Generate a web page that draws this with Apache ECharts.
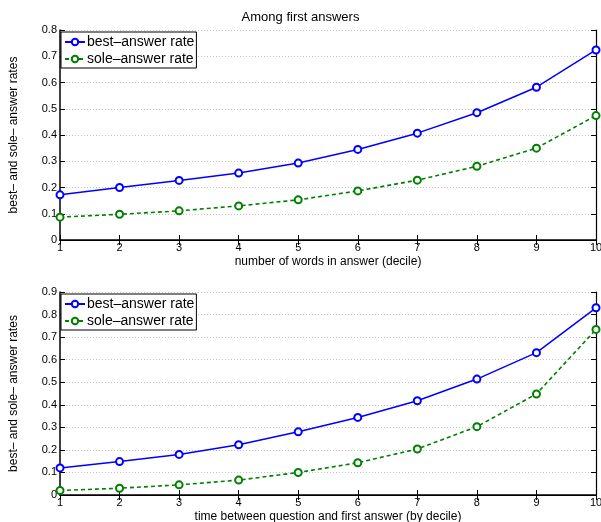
<!DOCTYPE html>
<html>
<head>
<meta charset="utf-8">
<script src="https://cdn.jsdelivr.net/npm/echarts@6/dist/echarts.min.js"></script>
<style>
html, body { margin: 0; padding: 0; background: #fff; }
#main { width: 601px; height: 522px; }
</style>
</head>
<body>
<div id="main"></div>
<script>
const deciles = [1, 2, 3, 4, 5, 6, 7, 8, 9, 10]
const wordsBest = [0.172, 0.200, 0.227, 0.255, 0.293, 0.345, 0.407, 0.485, 0.582, 0.724]
const wordsSole = [0.087, 0.098, 0.111, 0.130, 0.153, 0.187, 0.228, 0.281, 0.350, 0.474]
const timeBest = [0.120, 0.148, 0.180, 0.223, 0.280, 0.344, 0.418, 0.514, 0.631, 0.830]
const timeSole = [0.020, 0.030, 0.045, 0.066, 0.100, 0.143, 0.204, 0.303, 0.448, 0.734]

const font = 'Liberation Sans, Arial, sans-serif'
const blue = '#0000ff'
const green = '#008000'

let myChart = echarts.init(document.getElementById('main'))

const pairs = (ys) => deciles.map((x, i) => [x, ys[i]])

const xAxisFor = (gridIndex, name) => [
    {
        type: 'value', gridIndex: gridIndex, min: 1, max: 10, interval: 1,
        name: name, nameLocation: 'middle', nameGap: 16,
        nameTextStyle: {fontFamily: font, fontSize: 12, color: '#000'},
        axisLine: {lineStyle: {color: '#000', width: 1.5}},
        axisTick: {inside: true, length: 5, lineStyle: {color: '#000'}},
        axisLabel: {fontFamily: font, fontSize: 11, color: '#000', margin: 2},
        splitLine: {show: false}
    },
    {
        type: 'value', gridIndex: gridIndex, position: 'top', min: 1, max: 10, interval: 1,
        axisLine: {lineStyle: {color: '#000', width: 1.2}},
        axisTick: {inside: true, length: 5, lineStyle: {color: '#000'}},
        axisLabel: {show: false},
        splitLine: {show: false}
    }
]

const yAxisFor = (gridIndex, max) => [
    {
        type: 'value', gridIndex: gridIndex, min: 0, max: max, interval: 0.1,
        name: 'best\u2013 and sole\u2013 answer rates', nameLocation: 'middle', nameGap: 40,
        nameTextStyle: {fontFamily: font, fontSize: 12, color: '#000'},
        axisLine: {show: true, lineStyle: {color: '#000', width: 1.5}},
        axisTick: {inside: true, length: 5, lineStyle: {color: '#000'}},
        axisLabel: {fontFamily: font, fontSize: 11, color: '#000', margin: 3,
            formatter: v => Math.round(v * 10) / 10 + ''},
        splitLine: {show: true, lineStyle: {color: '#c4c4c4', type: [1, 2], width: 1}}
    },
    {
        type: 'value', gridIndex: gridIndex, position: 'right', min: 0, max: max, interval: 0.1,
        axisLine: {show: true, lineStyle: {color: '#000', width: 1.2}},
        axisTick: {inside: true, length: 5, lineStyle: {color: '#000'}},
        axisLabel: {show: false},
        splitLine: {show: false}
    }
]

const lineSeries = (name, data, color, dashed, xi, yi) => ({
    name: name, type: 'line', data: pairs(data),
    xAxisIndex: xi, yAxisIndex: yi,
    symbol: 'emptyCircle', symbolSize: 7,
    lineStyle: {color: color, width: dashed ? 1.6 : 1.5, type: dashed ? [4, 3] : 'solid'},
    itemStyle: {color: color, borderColor: color, borderWidth: 1.2},
    animation: false
})

const legendFor = (top) => ({
    left: 61, top: top, orient: 'vertical',
    data: ['best\u2013answer rate', 'sole\u2013answer rate'],
    backgroundColor: '#fff', borderColor: '#000', borderWidth: 1,
    padding: [3, 2, 2, 3], itemGap: 3, itemWidth: 20, itemHeight: 8,
    textStyle: {fontFamily: font, fontSize: 14, color: '#000', padding: [0, 0, 0, -3]}
})

let option = {
    backgroundColor: '#fff',
    title: {
        text: 'Among first answers', left: 'center', top: 6,
        textStyle: {fontFamily: font, fontSize: 13, fontWeight: 'normal', color: '#000'}
    },
    grid: [
        {left: 60, right: 5, top: 30, height: 210, outerBoundsMode: 'none'},
        {left: 60, right: 5, top: 292, height: 203, outerBoundsMode: 'none'}
    ],
    legend: [legendFor(32), legendFor(294)],
    xAxis: xAxisFor(0, 'number of words in answer (decile)').concat(
        xAxisFor(1, 'time between question and first answer (by decile)')),
    yAxis: yAxisFor(0, 0.8).concat(yAxisFor(1, 0.9)),
    series: [
        lineSeries('best\u2013answer rate', wordsBest, blue, false, 0, 0),
        lineSeries('sole\u2013answer rate', wordsSole, green, true, 0, 0),
        lineSeries('best\u2013answer rate', timeBest, blue, false, 2, 2),
        lineSeries('sole\u2013answer rate', timeSole, green, true, 2, 2)
    ]
}

myChart.setOption(option)
</script>
</body>
</html>
